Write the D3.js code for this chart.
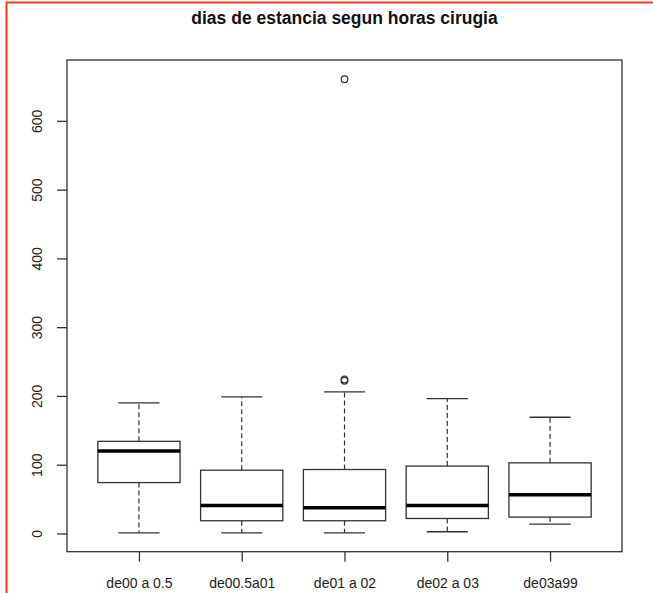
<!DOCTYPE html>
<html>
<head>
<meta charset="utf-8">
<script src="https://cdn.jsdelivr.net/npm/d3@7"></script>
<style>
html,body{margin:0;padding:0;background:#fff;}
svg{display:block;}
text{font-family:"Liberation Sans",Arial,sans-serif;}
</style>
</head>
<body>
<svg id="chart" width="653" height="593"></svg>
<script>
const categories = ["de00 a 0.5","de00.5a01","de01 a 02","de02 a 03","de03a99"];
const whiskerLow  = [1, 1, 1, 2.5, 13.6];
const q1          = [74, 18.5, 18.5, 21.8, 23.8];
const medians     = [120, 40.7, 37.3, 40.7, 56.2];
const q3          = [134, 92, 93, 98, 102.7];
const whiskerHigh = [190, 198.6, 206, 196, 169];
const outliers    = [[], [], [222, 224, 660.5], [], []];
const yTicks      = [0, 100, 200, 300, 400, 500, 600];
const titleText   = "dias de estancia segun horas cirugia";

const svg = d3.select("#chart");
const L = 67, R = 622, T = 60, B = 551.7;

// red frame
svg.append("path")
  .attr("d", `M6.5,593 L6.5,2.5 L653,2.5`)
  .attr("fill","none").attr("stroke","#f03a1e").attr("stroke-width",2);

const x = d3.scaleLinear().domain([0.3, 5.7]).range([L, R]);
const y = d3.scaleLinear().domain([-26.5, 688.5]).range([B, T]);

const lineCol = "#333";
const boxW = 0.8, capW = 0.4;

const data = categories.map((c,i)=>({c, i:i+1, lo:whiskerLow[i], q1:q1[i], med:medians[i], q3:q3[i], hi:whiskerHigh[i], out:outliers[i]}));

const g = svg.append("g");
const bx = g.selectAll("g.box").data(data).enter().append("g");

// whiskers dashed
bx.append("line").attr("x1",d=>x(d.i)).attr("x2",d=>x(d.i))
  .attr("y1",d=>y(d.q3)).attr("y2",d=>y(d.hi))
  .attr("stroke",lineCol).attr("stroke-width",1.2).attr("stroke-dasharray","5,3");
bx.append("line").attr("x1",d=>x(d.i)).attr("x2",d=>x(d.i))
  .attr("y1",d=>y(d.q1)).attr("y2",d=>y(d.lo))
  .attr("stroke",lineCol).attr("stroke-width",1.2).attr("stroke-dasharray","5,3");
// caps
bx.append("line").attr("x1",d=>x(d.i-capW/2)).attr("x2",d=>x(d.i+capW/2))
  .attr("y1",d=>y(d.hi)).attr("y2",d=>y(d.hi))
  .attr("stroke",lineCol).attr("stroke-width",1.3);
bx.append("line").attr("x1",d=>x(d.i-capW/2)).attr("x2",d=>x(d.i+capW/2))
  .attr("y1",d=>y(d.lo)).attr("y2",d=>y(d.lo))
  .attr("stroke",lineCol).attr("stroke-width",1.3);
// box
bx.append("rect").attr("x",d=>x(d.i-boxW/2)).attr("width",d=>x(d.i+boxW/2)-x(d.i-boxW/2))
  .attr("y",d=>y(d.q3)).attr("height",d=>y(d.q1)-y(d.q3))
  .attr("fill","#fff").attr("stroke",lineCol).attr("stroke-width",1.3);
// median
bx.append("line").attr("x1",d=>x(d.i-boxW/2)).attr("x2",d=>x(d.i+boxW/2))
  .attr("y1",d=>y(d.med)).attr("y2",d=>y(d.med))
  .attr("stroke","#000").attr("stroke-width",3.5);
// outliers
bx.selectAll("circle").data(d=>d.out.map(v=>({i:d.i,v}))).enter().append("circle")
  .attr("cx",d=>x(d.i)).attr("cy",d=>y(d.v)).attr("r",3.3)
  .attr("fill","none").attr("stroke",lineCol).attr("stroke-width",1.2);

// frame
svg.append("rect").attr("x",L).attr("y",T).attr("width",R-L).attr("height",B-T)
  .attr("fill","none").attr("stroke",lineCol).attr("stroke-width",1.3);

// y axis
const yAxis = d3.axisLeft(y).tickValues(yTicks).tickSize(10).tickPadding(0).tickFormat(d3.format("d"));
const ya = svg.append("g").attr("transform",`translate(${L},0)`).call(yAxis);
ya.select(".domain").remove();
ya.selectAll(".tick line").attr("stroke",lineCol).attr("stroke-width",1.3);
ya.selectAll(".tick text").attr("transform","rotate(-90)").attr("x",0).attr("y",-25)
  .attr("dy",0).attr("text-anchor","middle").attr("font-size",14).attr("fill","#222")
  .attr("font-family","Liberation Sans, Arial, sans-serif");

// x axis
const xAxis = d3.axisBottom(x).tickValues(data.map(d=>d.i)).tickSize(10).tickPadding(0)
  .tickFormat(v=>categories[v-1]);
const xa = svg.append("g").attr("transform",`translate(0,${B})`).call(xAxis);
xa.select(".domain").remove();
xa.selectAll(".tick line").attr("stroke",lineCol).attr("stroke-width",1.3);
xa.selectAll(".tick text").attr("y",36.5).attr("dy",0).attr("font-size",14).attr("fill","#222")
  .attr("font-family","Liberation Sans, Arial, sans-serif");

// title
svg.append("text").attr("x",(L+R)/2).attr("y",24).attr("text-anchor","middle")
  .attr("font-size",17.5).attr("font-weight","bold").attr("fill","#111").text(titleText);
</script>
</body>
</html>
